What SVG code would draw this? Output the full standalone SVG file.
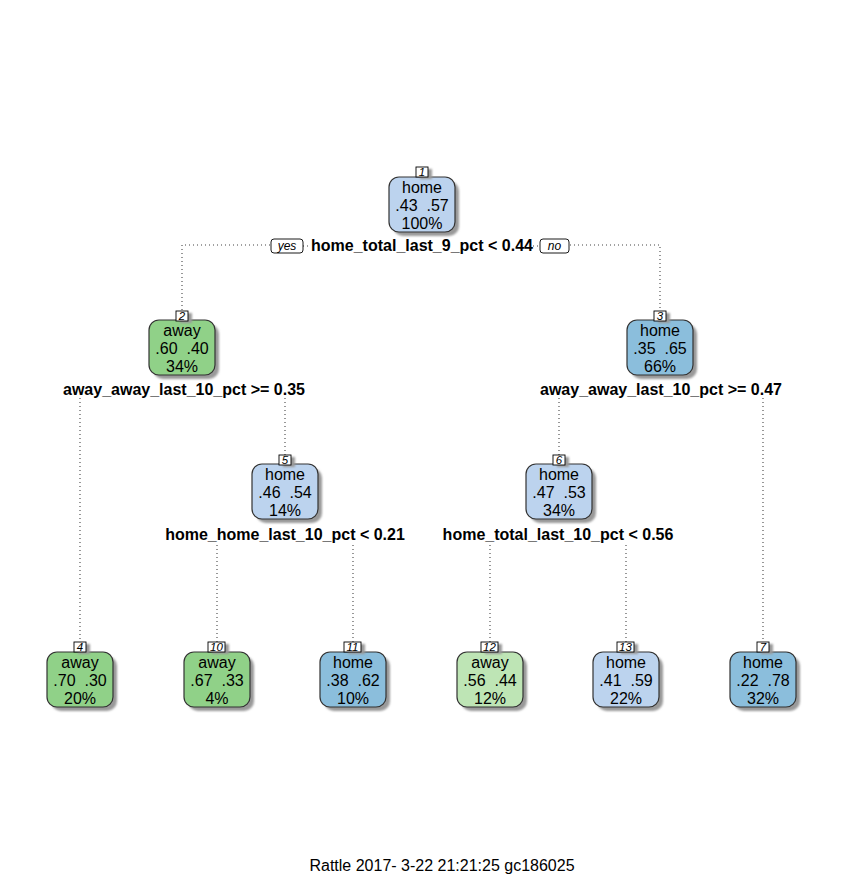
<svg xmlns="http://www.w3.org/2000/svg" width="844" height="880" viewBox="0 0 844 880">
<defs>
<filter id="sh" x="-20%" y="-20%" width="150%" height="150%"><feGaussianBlur stdDeviation="1.2"/></filter>
<style>
.t{font-family:"Liberation Sans",Arial,sans-serif;font-size:16px;fill:#000;text-anchor:middle;white-space:pre}
.s{font-family:"Liberation Sans",Arial,sans-serif;font-size:16px;font-weight:bold;fill:#000;text-anchor:middle}
.n{font-family:"Liberation Sans",Arial,sans-serif;font-size:11.5px;font-style:italic;fill:#000;text-anchor:middle}
.yn{font-family:"Liberation Sans",Arial,sans-serif;font-size:12px;font-style:italic;fill:#000;text-anchor:middle}
.box{stroke:#333;stroke-width:1.2}
.shd{fill:#999;filter:url(#sh)}
.nb{fill:#fff;stroke:#000;stroke-width:0.9}
.g1{fill:#90D188}
.g2{fill:#BEE5B5}
.b1{fill:#BCD3EE}
.b2{fill:#8BBEDC}
.c{fill:none;stroke:#444;stroke-width:1.1;stroke-dasharray:1 3}
.f{font-family:"Liberation Sans",Arial,sans-serif;font-size:16px;fill:#000;text-anchor:middle}
</style>
</defs>
<rect width="844" height="880" fill="#fff"/>
<g id="connectors">
<path class="c" d="M270 245 H182 V311"/>
<path class="c" d="M570 245 H660 V311"/>
<path class="c" d="M80 398 V642"/>
<path class="c" d="M285 398 V455"/>
<path class="c" d="M559 398 V455"/>
<path class="c" d="M763 398 V642"/>
<path class="c" d="M217 545 V642"/>
<path class="c" d="M353 545 V642"/>
<path class="c" d="M490 545 V642"/>
<path class="c" d="M626 545 V642"/>
<path class="c" d="M303 246 H310"/>
<path class="c" d="M533 246 H540"/>
</g>
<g id="node1">
<rect class="shd" x="393" y="181" width="66" height="55" rx="10"/>
<rect class="box b1" x="389" y="177" width="66" height="55" rx="10"/>
<rect class="shd" x="420" y="169" width="12" height="10"/>
<rect class="nb" x="416" y="167" width="12" height="10"/>
<text class="n" x="422" y="176">1</text>
<text class="t" x="422" y="193">home</text>
<text class="t" x="422" y="211">.43  .57</text>
<text class="t" x="422" y="229">100%</text>
<text class="s" x="422" y="251">home_total_last_9_pct &lt; 0.44</text>
<rect class="nb" x="271" y="239" width="32" height="14" rx="3"/>
<text class="yn" x="287" y="250">yes</text>
<rect class="nb" x="540" y="239" width="29" height="14" rx="3"/>
<text class="yn" x="554.5" y="250">no</text>
</g>
<g id="node2">
<rect class="shd" x="153" y="324" width="66" height="55" rx="10"/>
<rect class="box g1" x="149" y="320" width="66" height="55" rx="10"/>
<rect class="shd" x="180" y="313" width="12" height="10"/>
<rect class="nb" x="176" y="311" width="12" height="10"/>
<text class="n" x="182" y="320">2</text>
<text class="t" x="182" y="336">away</text>
<text class="t" x="182" y="354">.60  .40</text>
<text class="t" x="182" y="372">34%</text>
<text class="s" x="184" y="395">away_away_last_10_pct &gt;= 0.35</text>
</g>
<g id="node3">
<rect class="shd" x="631" y="324" width="66" height="55" rx="10"/>
<rect class="box b2" x="627" y="320" width="66" height="55" rx="10"/>
<rect class="shd" x="658" y="313" width="12" height="10"/>
<rect class="nb" x="654" y="311" width="12" height="10"/>
<text class="n" x="660" y="320">3</text>
<text class="t" x="660" y="336">home</text>
<text class="t" x="660" y="354">.35  .65</text>
<text class="t" x="660" y="372">66%</text>
<text class="s" x="661" y="395">away_away_last_10_pct &gt;= 0.47</text>
</g>
<g id="node5">
<rect class="shd" x="256" y="468" width="66" height="55" rx="10"/>
<rect class="box b1" x="252" y="464" width="66" height="55" rx="10"/>
<rect class="shd" x="283" y="457" width="12" height="10"/>
<rect class="nb" x="279" y="455" width="12" height="10"/>
<text class="n" x="285" y="464">5</text>
<text class="t" x="285" y="480">home</text>
<text class="t" x="285" y="498">.46  .54</text>
<text class="t" x="285" y="516">14%</text>
<text class="s" x="285" y="540">home_home_last_10_pct &lt; 0.21</text>
</g>
<g id="node6">
<rect class="shd" x="530" y="468" width="66" height="55" rx="10"/>
<rect class="box b1" x="526" y="464" width="66" height="55" rx="10"/>
<rect class="shd" x="557" y="457" width="12" height="10"/>
<rect class="nb" x="553" y="455" width="12" height="10"/>
<text class="n" x="559" y="464">6</text>
<text class="t" x="559" y="480">home</text>
<text class="t" x="559" y="498">.47  .53</text>
<text class="t" x="559" y="516">34%</text>
<text class="s" x="558" y="540">home_total_last_10_pct &lt; 0.56</text>
</g>
<g id="node4">
<rect class="shd" x="51" y="656" width="66" height="55" rx="10"/>
<rect class="box g1" x="47" y="652" width="66" height="55" rx="10"/>
<rect class="shd" x="78" y="644" width="12" height="10"/>
<rect class="nb" x="74" y="642" width="12" height="10"/>
<text class="n" x="80" y="651">4</text>
<text class="t" x="80" y="668">away</text>
<text class="t" x="80" y="686">.70  .30</text>
<text class="t" x="80" y="704">20%</text>
</g>
<g id="node10">
<rect class="shd" x="188" y="656" width="66" height="55" rx="10"/>
<rect class="box g1" x="184" y="652" width="66" height="55" rx="10"/>
<rect class="shd" x="212" y="644" width="17" height="10"/>
<rect class="nb" x="208" y="642" width="17" height="10"/>
<text class="n" x="216.5" y="651">10</text>
<text class="t" x="217" y="668">away</text>
<text class="t" x="217" y="686">.67  .33</text>
<text class="t" x="217" y="704">4%</text>
</g>
<g id="node11">
<rect class="shd" x="324" y="656" width="66" height="55" rx="10"/>
<rect class="box b2" x="320" y="652" width="66" height="55" rx="10"/>
<rect class="shd" x="348" y="644" width="17" height="10"/>
<rect class="nb" x="344" y="642" width="17" height="10"/>
<text class="n" x="352.5" y="651">11</text>
<text class="t" x="353" y="668">home</text>
<text class="t" x="353" y="686">.38  .62</text>
<text class="t" x="353" y="704">10%</text>
</g>
<g id="node12">
<rect class="shd" x="461" y="656" width="66" height="55" rx="10"/>
<rect class="box g2" x="457" y="652" width="66" height="55" rx="10"/>
<rect class="shd" x="485" y="644" width="17" height="10"/>
<rect class="nb" x="481" y="642" width="17" height="10"/>
<text class="n" x="489.5" y="651">12</text>
<text class="t" x="490" y="668">away</text>
<text class="t" x="490" y="686">.56  .44</text>
<text class="t" x="490" y="704">12%</text>
</g>
<g id="node13">
<rect class="shd" x="597" y="656" width="66" height="55" rx="10"/>
<rect class="box b1" x="593" y="652" width="66" height="55" rx="10"/>
<rect class="shd" x="621" y="644" width="17" height="10"/>
<rect class="nb" x="617" y="642" width="17" height="10"/>
<text class="n" x="625.5" y="651">13</text>
<text class="t" x="626" y="668">home</text>
<text class="t" x="626" y="686">.41  .59</text>
<text class="t" x="626" y="704">22%</text>
</g>
<g id="node7">
<rect class="shd" x="734" y="656" width="66" height="55" rx="10"/>
<rect class="box b2" x="730" y="652" width="66" height="55" rx="10"/>
<rect class="shd" x="761" y="644" width="12" height="10"/>
<rect class="nb" x="757" y="642" width="12" height="10"/>
<text class="n" x="763" y="651">7</text>
<text class="t" x="763" y="668">home</text>
<text class="t" x="763" y="686">.22  .78</text>
<text class="t" x="763" y="704">32%</text>
</g>
<text class="f" x="442" y="871">Rattle 2017- 3-22 21:21:25 gc186025</text>
</svg>
